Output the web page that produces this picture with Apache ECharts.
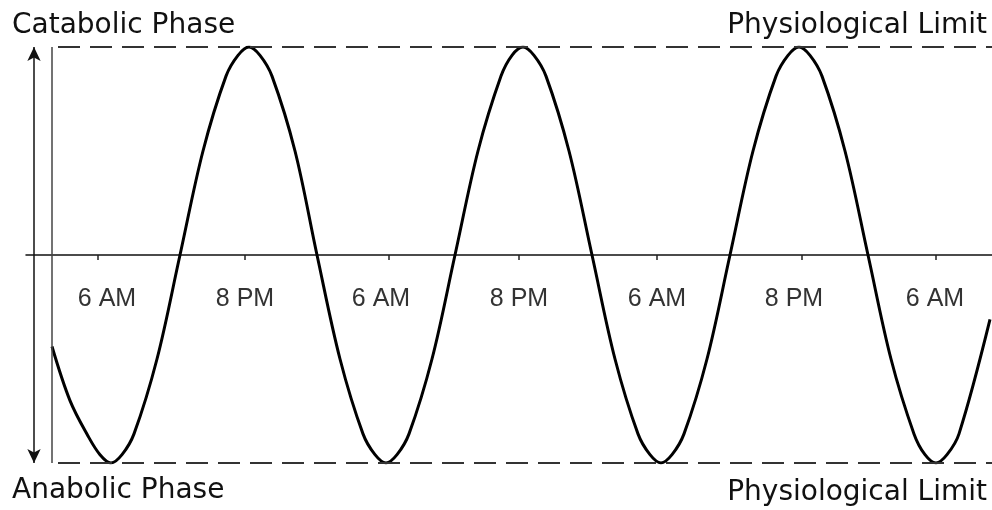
<!DOCTYPE html>
<html>
<head>
<meta charset="utf-8">
<script src="https://cdn.jsdelivr.net/npm/echarts@6/dist/echarts.min.js"></script>
<style>
  html, body { margin: 0; padding: 0; background: #fff; }
  #chart { width: 992px; height: 510px; }
</style>
</head>
<body>
<div id="chart"></div>
<script>
// time runs left to right in arbitrary units, level runs -1 (anabolic limit) .. 1 (catabolic limit)
var curveTime = [26, 44, 62, 74, 85, 96, 108, 131, 154, 177, 200, 212, 223, 234, 246, 269, 291, 314, 337, 349, 360, 371, 383, 406, 429, 452, 475, 486, 497, 508, 520, 543, 566, 589, 612, 624, 635, 646, 658, 681, 704, 727, 750, 762, 773, 784, 796, 819, 842, 865, 888, 899, 910, 921, 933, 964];
var curveLevel = [-0.44, -0.70, -0.87, -0.96, -1, -0.96, -0.86, -0.5, 0, 0.5, 0.86, 0.96, 1, 0.96, 0.86, 0.5, 0, -0.5, -0.86, -0.96, -1, -0.96, -0.86, -0.5, 0, 0.5, 0.86, 0.96, 1, 0.96, 0.86, 0.5, 0, -0.5, -0.86, -0.96, -1, -0.96, -0.86, -0.5, 0, 0.5, 0.86, 0.96, 1, 0.96, 0.86, 0.5, 0, -0.5, -0.86, -0.96, -1, -0.96, -0.86, -0.31];

var tickTimes = [72, 219, 363, 493, 631, 776, 910];
var labelTimes = [81, 219, 355, 493, 631, 768, 909];
var tickLabels = ['6 AM', '8 PM', '6 AM', '8 PM', '6 AM', '8 PM', '6 AM'];

var limitLevels = [1, -1];
var timeStart = 26;
var timeEnd = 966;
var arrowTime = 8;

var chart = echarts.init(document.getElementById('chart'));

var points = curveTime.map(function(t, i) { return [t, curveLevel[i]]; });

var limitLines = limitLevels.map(function(v) {
  return [{ coord: [timeStart, v] }, { coord: [timeEnd, v] }];
});

var textStyle = { fontFamily: 'DejaVu Sans', fontSize: 28, fill: '#111' };

chartSettings = {
  animation: false,
  grid: { left: 26, right: 0, top: 47, bottom: 47 },
  xAxis: {
    type: 'value',
    min: 0,
    max: 966,
    offset: -208,
    splitLine: { show: false },
    axisLine: { show: true, onZero: false, lineStyle: { color: '#111', width: 1.5 } },
    axisTick: { show: true, length: 5, customValues: tickTimes, lineStyle: { color: '#222', width: 1.5 } },
    axisLabel: {
      show: true,
      customValues: labelTimes,
      margin: 32,
      fontFamily: 'Liberation Sans',
      fontSize: 25,
      color: '#333',
      formatter: function(v) {
        var i = labelTimes.indexOf(v);
        return i >= 0 ? tickLabels[i] : '';
      }
    }
  },
  yAxis: {
    type: 'value',
    min: -1,
    max: 1,
    show: false
  },
  series: [
    {
      type: 'line',
      data: points,
      smooth: 0.35,
      symbol: 'none',
      lineStyle: { color: '#000', width: 3 },
      markLine: {
        silent: true,
        symbol: 'none',
        label: { show: false },
        data: limitLines.concat([
          [{ coord: [timeStart, 1], lineStyle: { type: 'solid', width: 1.5, color: '#444', dashOffset: 0 } },
           { coord: [timeStart, -1] }]
        ]),
        lineStyle: { color: '#333', width: 2, type: [22, 10], dashOffset: 26 }
      }
    },
    {
      type: 'line',
      data: [],
      markLine: {
        silent: true,
        symbol: ['arrow', 'arrow'],
        symbolSize: [10, 14],
        label: { show: false },
        lineStyle: { color: '#111', width: 1.5, type: 'solid' },
        data: [[{ coord: [arrowTime, limitLevels[0]] }, { coord: [arrowTime, limitLevels[1]] }]]
      }
    }
  ],
  graphic: [
    { type: 'text', left: 12, top: 12, style: Object.assign({ text: 'Catabolic Phase' }, textStyle) },
    { type: 'text', right: 5, top: 12, style: Object.assign({ text: 'Physiological Limit' }, textStyle) },
    { type: 'text', left: 12, top: 477, style: Object.assign({ text: 'Anabolic Phase' }, textStyle) },
    { type: 'text', right: 5, top: 479, style: Object.assign({ text: 'Physiological Limit' }, textStyle) }
  ]
};

chart.setOption(chartSettings);
</script>
</body>
</html>
